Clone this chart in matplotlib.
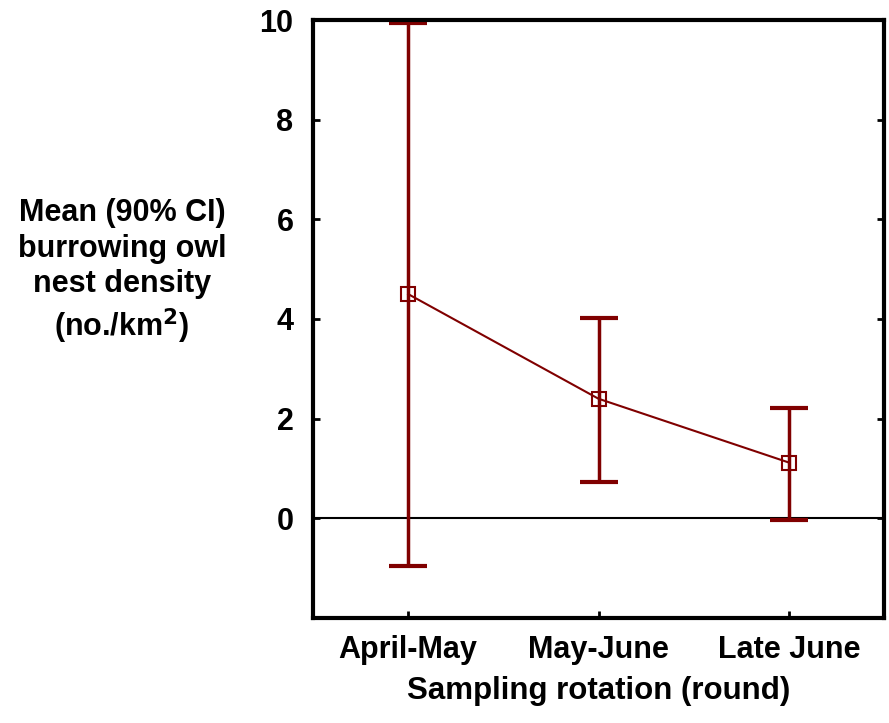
import numpy as np
import matplotlib.pyplot as plt

plt.rcParams['font.family'] = ['Liberation Sans', 'DejaVu Sans']
plt.rcParams['font.weight'] = 'bold'

# data
rounds = ['April-May', 'May-June', 'Late June']
mean_density = [4.5, 2.4, 1.12]
ci_low = [-0.96, 0.72, -0.04]
ci_high = [9.93, 4.02, 2.21]

dark_red = '#800000'

fig = plt.figure(figsize=(8.89, 7.23), dpi=100)
ax = fig.add_axes([313/889, 1-618/723, 571/889, 598/723])

x = np.arange(len(rounds))
mean = np.array(mean_density)
yerr = [mean - np.array(ci_low), np.array(ci_high) - mean]

ax.axhline(0, color='black', lw=1.5, zorder=1)
ax.errorbar(x, mean, yerr=yerr, fmt='none', ecolor=dark_red, elinewidth=2.5,
            capsize=13.5, capthick=3, zorder=2)
ax.plot(x, mean, color=dark_red, lw=1.5, marker='s', markersize=10,
        markerfacecolor='none', markeredgecolor=dark_red, markeredgewidth=1.5, zorder=3)

ax.set_xlim(-0.5, 2.5)
ax.set_ylim(-2, 10)
ax.set_yticks([0, 2, 4, 6, 8, 10])
ax.set_xticks(x)
ax.set_xticklabels(rounds)
ax.tick_params(direction='in', length=5, width=2, labelsize=22, right=True, top=False)
ax.tick_params(axis='y', pad=14)
ax.tick_params(axis='x', pad=12)
for lbl in ax.get_xticklabels() + ax.get_yticklabels():
    lbl.set_fontweight('bold')
for s in ax.spines.values():
    s.set_linewidth(3)

ax.set_xlabel('Sampling rotation (round)', fontsize=22.5, fontweight='bold', labelpad=8)
fig.text(122/889, 1-272/723, 'Mean (90% CI)\nburrowing owl\nnest density\n(no./km$^\\mathbf{2}$)',
         ha='center', va='center', fontsize=22, fontweight='bold', linespacing=1.25)

fig.savefig('out.png', dpi=100)
